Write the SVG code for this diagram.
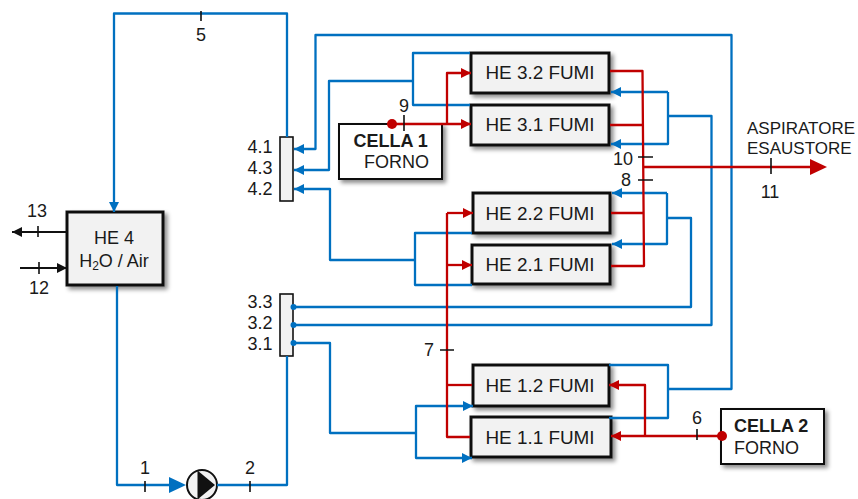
<svg xmlns="http://www.w3.org/2000/svg" width="858" height="499" viewBox="0 0 858 499">
<style>
text{font-family:"Liberation Sans",Arial,sans-serif;font-size:18px;fill:#1a1a1a}
.he{font-size:18.9px}
.s{font-size:17px}
.m{text-anchor:middle}.e{text-anchor:end}.b{font-weight:bold}
.box{fill:#f2f2f2;stroke:#111;stroke-width:3;filter:url(#sh)}
.wbox{fill:#fff;stroke:#111;stroke-width:2;filter:url(#sh)}
.col{fill:#f2f2f2;stroke:#111;stroke-width:1.6}
.bl{fill:none;stroke:#0070c0;stroke-width:2.3;stroke-linejoin:round}
.rd{fill:none;stroke:#c00000;stroke-width:2.3;stroke-linejoin:round}
.k{fill:none;stroke:#111;stroke-width:2}
.t{fill:none;stroke:#111;stroke-width:1.6}
.fb{fill:#0070c0}.fr{fill:#c00000}.fk{fill:#111}
</style>
<defs>
<filter id="sh" x="-20%" y="-20%" width="140%" height="150%"><feDropShadow dx="3" dy="3" stdDeviation="2" flood-color="#000" flood-opacity="0.45"/></filter>
<marker id="ab" markerUnits="userSpaceOnUse" markerWidth="12" markerHeight="12" refX="10" refY="6" orient="auto"><path d="M0 1L10 6L0 11Z" fill="#0070c0"/></marker>
<marker id="ar" markerUnits="userSpaceOnUse" markerWidth="12" markerHeight="12" refX="10" refY="6" orient="auto"><path d="M0 1L10 6L0 11Z" fill="#c00000"/></marker>
<marker id="ak" markerUnits="userSpaceOnUse" markerWidth="12" markerHeight="12" refX="10" refY="6" orient="auto"><path d="M0 1L10 6L0 11Z" fill="#111"/></marker>
</defs>
<g id="he4"><rect class="box" x="67" y="212" width="96" height="73"/><text class="m" x="114" y="244">HE 4</text><text class="m" x="114" y="267">H<tspan font-size="12" dy="3">2</tspan><tspan dy="-3">O / Air</tspan></text></g>
<g id="he32"><rect class="box" x="471" y="53" width="138" height="40"/><text class="m he" x="540" y="79">HE 3.2 FUMI</text></g>
<g id="he31"><rect class="box" x="471" y="105" width="138" height="40"/><text class="m he" x="540" y="131">HE 3.1 FUMI</text></g>
<g id="he22"><rect class="box" x="473" y="193" width="137" height="40"/><text class="m he" x="540" y="220">HE 2.2 FUMI</text></g>
<g id="he21"><rect class="box" x="472" y="245" width="138" height="39"/><text class="m he" x="540" y="271">HE 2.1 FUMI</text></g>
<g id="he12"><rect class="box" x="473" y="365" width="136" height="41"/><text class="m he" x="540" y="392">HE 1.2 FUMI</text></g>
<g id="he11"><rect class="box" x="471" y="417" width="140" height="40"/><text class="m he" x="540" y="444">HE 1.1 FUMI</text></g>
<g id="cella1"><rect class="wbox" x="339" y="124" width="103" height="55"/><text class="b" x="353.500" y="147">CELLA 1</text><text x="364" y="168">FORNO</text></g>
<g id="cella2"><rect class="wbox" x="721" y="409" width="103" height="55"/><text class="b" x="734" y="432">CELLA 2</text><text x="734" y="454">FORNO</text></g>
<g id="collector4"><rect class="col" x="280" y="137" width="13" height="64"/><text class="e" x="272.500" y="153">4.1</text><text class="e" x="272.500" y="174">4.3</text><text class="e" x="272.500" y="195">4.2</text></g>
<g id="collector3"><rect class="col" x="280" y="294" width="13" height="62"/><text class="e" x="272.500" y="308">3.3</text><text class="e" x="272.500" y="329">3.2</text><text class="e" x="272.500" y="350">3.1</text></g>
<g id="pump"><circle cx="202" cy="485" r="15" fill="#f2f2f2" stroke="#111" stroke-width="2"/><path class="fk" d="M197.500 470.500L215 485L197.500 499.500Z"/></g>
<g id="connectors">
<path class="bl" d="M287 137V13.500H114V212" marker-end="url(#ab)"/>
<path class="bl" d="M117 286V485H170"/>
<path class="bl" d="M217 485H287V356"/>
<path class="bl" d="M669 389H731.500V35H315.500V149H294" marker-end="url(#ab)"/>
<path class="bl" d="M413 81H329V170H294" marker-end="url(#ab)"/>
<path class="bl" d="M470 53H413V105H470"/>
<path class="bl" d="M415 260H330V189H294" marker-end="url(#ab)"/>
<path class="bl" d="M472 233H415V285H472"/>
<path class="bl" d="M668 92H611" marker-end="url(#ab)"/>
<path class="bl" d="M668 92V144H611" marker-end="url(#ab)"/>
<path class="bl" d="M668 116H711.500V325H293"/>
<path class="bl" d="M667 193H612" marker-end="url(#ab)"/>
<path class="bl" d="M667 193V244H612" marker-end="url(#ab)"/>
<path class="bl" d="M667 218H691V307H293"/>
<path class="bl" d="M293 343H330V433H416"/>
<path class="bl" d="M416 433V406H473" marker-end="url(#ab)"/>
<path class="bl" d="M416 433V458H472" marker-end="url(#ab)"/>
<path class="bl" d="M609 365H668V418H609"/>
<circle class="fb" cx="293.500" cy="307" r="3"/><circle class="fb" cx="293.500" cy="325" r="3"/><circle class="fb" cx="293.500" cy="343" r="3"/>
<path class="rd" d="M392 124H471" marker-end="url(#ar)"/>
<path class="rd" d="M447 124V73H471" marker-end="url(#ar)"/>
<path class="rd" d="M610 71H642.500L644 266H611"/>
<path class="rd" d="M610 125H643"/>
<path class="rd" d="M611 213H644"/>
<path class="rd" d="M643 167H812"/>
<path class="fr" d="M810 159L827 167L810 175Z"/>
<path class="rd" d="M447 213V437H470"/>
<path class="rd" d="M447 213H473" marker-end="url(#ar)"/>
<path class="rd" d="M447 265H472" marker-end="url(#ar)"/>
<path class="rd" d="M447 385H472"/>
<path class="rd" d="M722 436H611" marker-end="url(#ar)"/>
<path class="rd" d="M645 436V385H609" marker-end="url(#ar)"/>
<circle class="fr" cx="392" cy="124" r="5"/>
<circle class="fr" cx="722" cy="436" r="5"/>
<path class="k" d="M67 232H12" marker-end="url(#ak)"/>
<path class="k" d="M20 268H67" marker-end="url(#ak)"/>
<path class="t" d="M201 11V21M145 481V492M250 481V492M38 226V237M39 262V274M404 115V131M771 158V174M697 429V440M638 157H653M638 180H653M440 350H454"/>
<path class="fb" d="M169 477L186 485L169 493Z"/>
</g>
<g id="labels">
<text class="m" x="201" y="41">5</text><text class="m" x="145" y="474">1</text><text class="m" x="250" y="474">2</text>
<text class="m" x="37" y="217">13</text><text class="m" x="39" y="294">12</text><text class="m" x="404" y="112">9</text>
<text class="e" x="633" y="165">10</text><text class="e" x="631" y="186">8</text><text class="e" x="434" y="356">7</text><text class="m" x="697" y="424">6</text><text class="m" x="770" y="198">11</text>
<text class="s" x="747" y="134">ASPIRATORE</text><text class="s" x="747" y="154">ESAUSTORE</text>
</g>
</svg>
